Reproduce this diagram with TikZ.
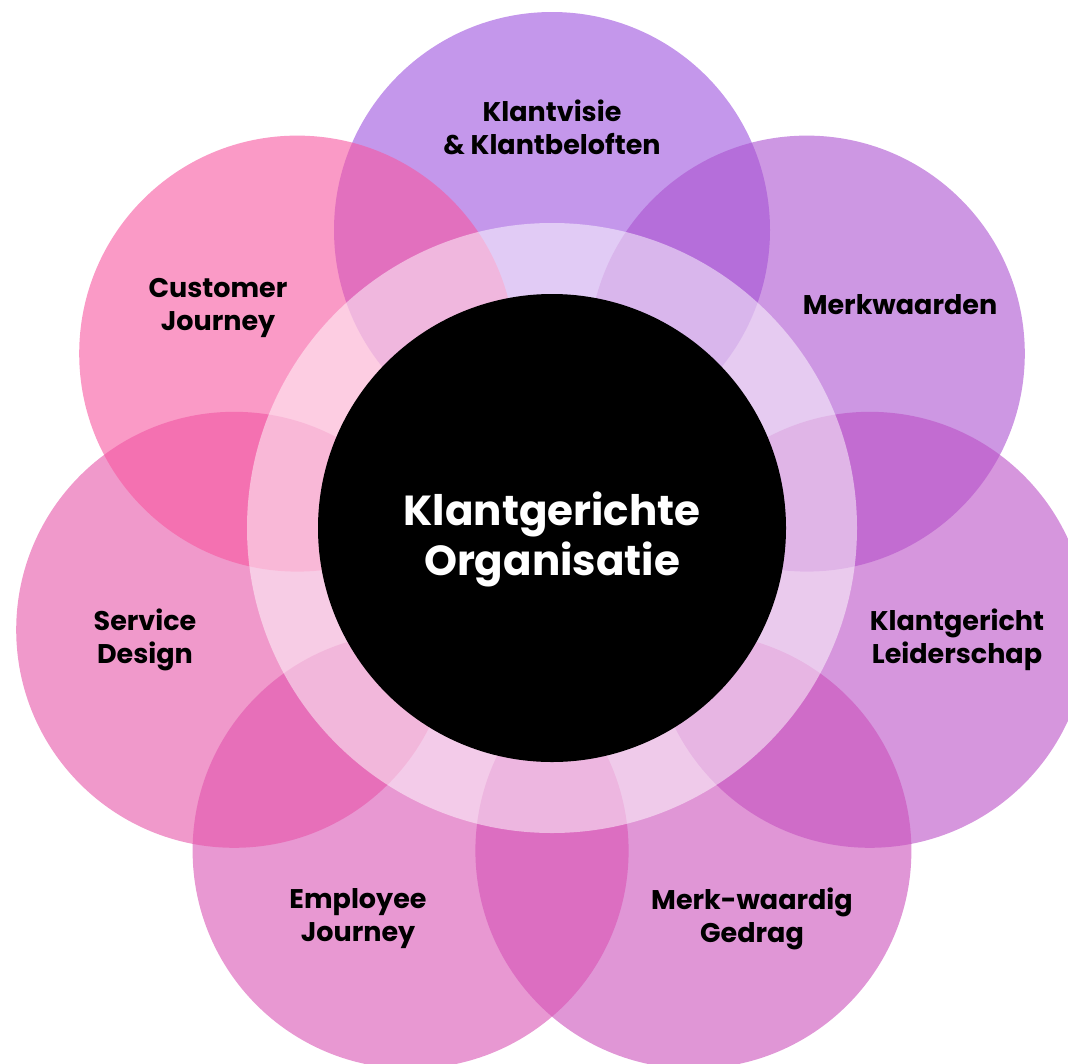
\documentclass[tikz,border=0pt]{standalone}
\usepackage{fontspec}
\setmainfont{Poppins}
\usepackage{xcolor}
\usepackage{tikz}
\definecolor{visiecol}{RGB}{157,82,222}
\definecolor{merkcol}{RGB}{172,82,208}
\definecolor{leidercol}{RGB}{187,80,198}
\definecolor{gedragcol}{RGB}{203,80,187}
\definecolor{employeecol}{RGB}{217,83,180}
\definecolor{servicecol}{RGB}{230,85,168}
\definecolor{customercol}{RGB}{247,87,160}
\tikzset{
  petal/.style={
    shape = circle,
    minimum size = 436pt,
    inner sep = 0pt,
    fill opacity = 0.6
  },
  petallabel/.style={
    align = center,
    text = black,
    font = \bfseries\fontsize{27}{33}\selectfont
  },
  hub/.style={
    shape = circle,
    minimum size = 468pt,
    inner sep = 0pt,
    fill = black
  },
  hublabel/.style={
    align = center,
    text = white,
    font = \bfseries\fontsize{42}{50}\selectfont
  }
}

\begin{document}
\begin{tikzpicture}[x=1pt, y=-1pt]
        \useasboundingbox (0,0) rectangle (1068,1063);
        \clip (0,0) rectangle (1068,1063);
        % petals
        \node[petal, fill=visiecol] (visie) at (552,230) {};
        \node[petal, fill=merkcol] (merk) at (806.8,353.6) {};
        \node[petal, fill=leidercol] (leider) at (869.8,629.8) {};
        \node[petal, fill=gedragcol] (gedrag) at (693.4,850.7) {};
        \node[petal, fill=employeecol] (employee) at (410.6,850.7) {};
        \node[petal, fill=servicecol] (service) at (234.2,629.8) {};
        \node[petal, fill=customercol] (customer) at (297.2,353.6) {};
        % ring
        \fill[white, fill opacity=0.5] (552,528) circle (305);
        \node[hub] (hart) at (552,528) {};
        \node[hublabel] (harttxt) at (552,539) {Klantgerichte\\Organisatie};
        % labels
        \node[petallabel] (visietxt) at (552,127) {Klantvisie\\\& Klantbeloften};
        \node[petallabel] (merktxt) at (900,305) {Merkwaarden};
        \node[petallabel] (leidertxt) at (957,640) {Klantgericht\\Leiderschap};
        \node[petallabel] (gedragtxt) at (752,919) {Merk-waardig\\Gedrag};
        \node[petallabel] (employeetxt) at (358,919) {Employee\\Journey};
        \node[petallabel] (servicetxt) at (145,640) {Service\\Design};
        \node[petallabel] (customertxt) at (218,308) {Customer\\Journey};
    \end{tikzpicture}
\end{document}
